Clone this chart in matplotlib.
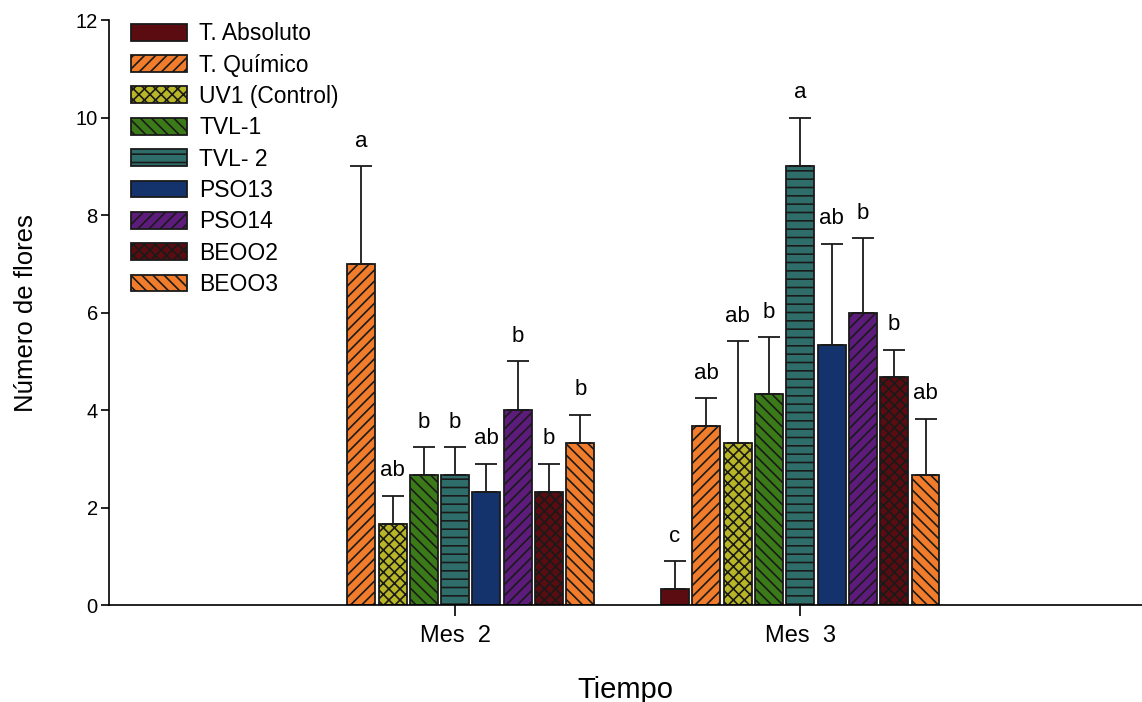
import numpy as np
import matplotlib.pyplot as plt

plt.rcParams['font.family'] = ['Liberation Sans', 'DejaVu Sans']
plt.rcParams['hatch.linewidth'] = 1.2

# Data
months = ['Mes  2', 'Mes  3']
treatments = ['T. Absoluto', 'T. Químico', 'UV1 (Control)', 'TVL-1', 'TVL- 2',
              'PSO13', 'PSO14', 'BEOO2', 'BEOO3']
mes2_mean = [0, 7.0, 1.67, 2.67, 2.67, 2.33, 4.0, 2.33, 3.33]
mes2_err = [0, 2.0, 0.57, 0.57, 0.57, 0.57, 1.0, 0.57, 0.57]
mes3_mean = [0.33, 3.67, 3.33, 4.33, 9.0, 5.33, 6.0, 4.67, 2.67]
mes3_err = [0.57, 0.57, 2.08, 1.16, 1.0, 2.08, 1.52, 0.57, 1.15]
mes2_letters = ['', 'a', 'ab', 'b', 'b', 'ab', 'b', 'b', 'b']
mes3_letters = ['c', 'ab', 'ab', 'b', 'a', 'ab', 'b', 'b', 'ab']

colors = ['#5a0c10', '#f07c2c', '#b8b526', '#3b7a18', '#2e6d69',
          '#14336c', '#5d1c7c', '#5a0c10', '#f07c2c']
hatches = ['', '///', 'xxx', '\\\\\\', '--', '', '///', 'xxx', '\\\\\\']

means = np.array([mes2_mean, mes3_mean])
errs = np.array([mes2_err, mes3_err])
letters = [mes2_letters, mes3_letters]

fig = plt.figure(figsize=(11.42, 7.02), dpi=100)
ax = fig.add_axes([0.0954, 0.138, 0.9046, 0.8335])

x = np.arange(len(months))
step, width = 0.0907, 0.081
n = len(treatments)

for i, name in enumerate(treatments):
    pos = x + (i - (n - 1) / 2) * step
    vals = means[:, i]
    lw = [1.3 if v > 0 else 0 for v in vals]
    ax.bar(pos, vals, width, color=colors[i], hatch=hatches[i],
           edgecolor='#1a1a1a', linewidth=lw, label=name, zorder=2)
    for j in range(len(months)):
        if vals[j] <= 0:
            continue
        ax.errorbar(pos[j], vals[j], yerr=[[0], [errs[j, i]]], fmt='none',
                    ecolor='#1a1a1a', elinewidth=1.3, capsize=8, capthick=1.3, zorder=3)
        ax.text(pos[j], vals[j] + errs[j, i] + 0.3, letters[j][i],
                ha='center', va='bottom', fontsize=16)

ax.set_xlim(-1.003, 1.99)
ax.set_ylim(0, 12)
ax.set_yticks(range(0, 13, 2))
ax.set_xticks(x)
ax.set_xticklabels(months, fontsize=17)
ax.tick_params(axis='y', labelsize=14.5, length=6, width=1.2, direction='out', pad=2)
ax.tick_params(axis='x', length=8, width=1.2, direction='out', pad=6)
for s in ['top', 'right']:
    ax.spines[s].set_visible(False)
for s in ['left', 'bottom']:
    ax.spines[s].set_linewidth(1.2)
    ax.spines[s].set_zorder(3)

ax.set_ylabel('Número de flores', fontsize=18.5, labelpad=27)
ax.set_xlabel('Tiempo', fontsize=21, labelpad=21)

leg = ax.legend(loc='upper left', bbox_to_anchor=(0.012, 1.012), frameon=False,
                fontsize=16.5, handlelength=2.45, handleheight=0.75,
                labelspacing=0.365, handletextpad=0.55, borderaxespad=0)
for h in leg.legend_handles:
    h.set_linewidth(1.3)

fig.savefig('out.png', dpi=100)
